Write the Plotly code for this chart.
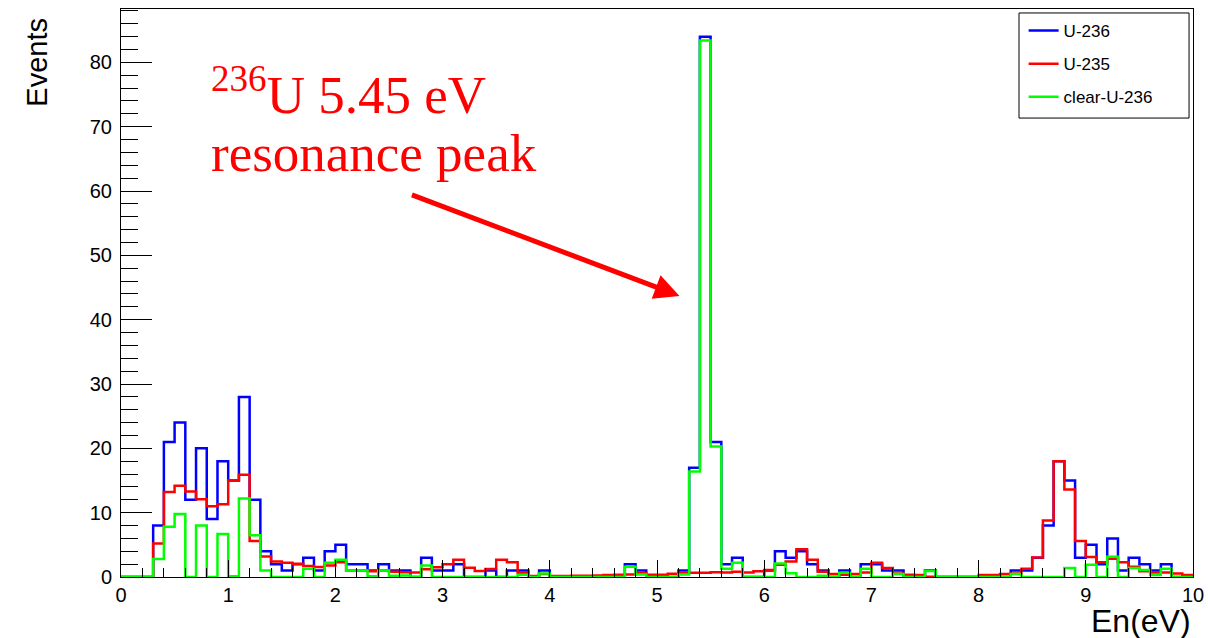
import numpy as np
import plotly.graph_objects as go

# Histogram binning: 100 bins of 0.1 eV between 0 and 10 eV
bin_lo, bin_hi, n_bins = 0.0, 10.0, 100

# Event counts per bin
u236 = [0, 0, 0, 8, 21, 24, 12, 20, 9, 18,
        15, 28, 12, 4, 2, 1, 2, 3, 1, 4,
        5, 2, 2, 1, 2, 1, 1, 0, 3, 1,
        1, 2, 0, 0, 1, 0, 1, 1, 0, 1,
        0, 0, 0, 0, 0, 0, 0, 2, 1, 0,
        0, 0, 1, 17, 84, 21, 2, 3, 0, 0,
        1, 4, 3, 4, 2, 1, 0, 1, 0, 2,
        2, 1, 1, 0, 0, 1, 0, 0, 0, 0,
        0, 0, 0, 1, 1, 3, 8, 18, 15, 3,
        5, 2, 6, 1, 3, 2, 1, 2, 0, 0]

u235 = [0, 0, 0, 5.2, 13.2, 14.2, 13.3, 12.1, 11.0, 11.3,
        15.0, 15.9, 5.6, 3.2, 2.4, 2.2, 2.05, 1.7, 1.55, 1.8,
        2.3, 1.0, 1.0, 0.9, 1.0, 0.8, 0.75, 0.7, 1.2, 1.5,
        2.0, 2.7, 1.45, 0.95, 1.25, 2.7, 2.3, 0.65, 0.15, 0.45,
        0.15, 0.15, 0.2, 0.2, 0.25, 0.3, 0.35, 0.4, 0.6, 0.35,
        0.35, 0.5, 0.6, 0.65, 0.65, 0.75, 0.7, 0.8, 0.7, 0.9,
        1.1, 1.9, 2.4, 4.3, 2.7, 0.8, 0.45, 0.35, 0.45, 0.7,
        2.2, 1.4, 0.55, 0.35, 0.3, 0.05, 0, 0, 0, 0,
        0.3, 0.3, 0.45, 0.55, 1.3, 3.05, 8.8, 18.0, 13.6, 5.6,
        3.1, 2.3, 2.85, 2.3, 1.6, 0.9, 0.7, 0.7, 0.55, 0.3]

clear_u236 = [0, 0, 0, 2.8, 7.8, 9.8, 0, 8.0, 0, 6.7,
              0.1, 12.2, 6.5, 1.0, 0, 0, 0, 1.3, 0, 2.2,
              2.7, 1.0, 1.0, 0.1, 1.0, 0.2, 0.25, 0, 1.8, 0,
              0, 0, 0, 0, 0, 0, 0, 0.35, 0, 0.55,
              0, 0, 0, 0, 0, 0, 0, 1.6, 0.4, 0,
              0, 0, 0.4, 16.4, 83.4, 20.3, 1.3, 2.2, 0, 0,
              0, 2.1, 0.6, 0, 0, 0.2, 0, 0.65, 0, 1.3,
              0, 0, 0.45, 0, 0, 0.95, 0, 0, 0, 0,
              0, 0, 0, 0.45, 0, 0, 0, 0, 1.4, 0,
              1.9, 0, 3.15, 0, 1.4, 1.1, 0.3, 1.3, 0, 0]

series = [("U-236", u236, "#0000ff"),
          ("U-235", u235, "#ff0000"),
          ("clear-U-236", clear_u236, "#00ff00")]

edges = np.linspace(bin_lo, bin_hi, n_bins + 1)

fig = go.Figure()
for name, vals, col in series:
    # step outline: each bin value held from its low edge to the next edge
    fig.add_trace(go.Scatter(
        x=edges, y=list(vals) + [vals[-1]],
        mode="lines", line=dict(color=col, width=2.5, shape="hv"),
        name=name, legendgroup=name,
    ))

sans = "Liberation Sans, Arial, sans-serif"
serif = "Liberation Serif, Times New Roman, serif"
axis_font = dict(family=sans, size=20, color="black")

fig.update_xaxes(
    range=[bin_lo, bin_hi], showgrid=False, zeroline=False, automargin=False,
    showline=True, linecolor="black", linewidth=1, mirror=True,
    ticks="inside", ticklen=17, tickcolor="black", tickwidth=1,
    dtick=1, tick0=0, tickfont=axis_font,
    minor=dict(ticks="inside", ticklen=9, dtick=0.2, tickcolor="black", tickwidth=1),
)
fig.update_yaxes(
    range=[0, 88.3], showgrid=False, zeroline=False, automargin=False,
    showline=True, linecolor="black", linewidth=1, mirror=True,
    ticks="inside", ticklen=31, tickcolor="black", tickwidth=1,
    dtick=10, tick0=0, tickfont=axis_font, ticklabelstandoff=4,
    minor=dict(ticks="inside", ticklen=17, dtick=2, tickcolor="black", tickwidth=1),
)

# Legend frame
fig.add_shape(type="rect", xref="paper", yref="paper",
              x0=0.8377, x1=0.9963, y0=0.8080, y1=0.9930,
              line=dict(color="black", width=1), fillcolor="white", layer="below")

annotations = [
    dict(text="Events", xref="paper", yref="paper", x=-0.078, y=0.988,
         xanchor="center", yanchor="top", textangle=-90, showarrow=False,
         font=dict(family=sans, size=29, color="black")),
    dict(text="En(eV)", xref="paper", yref="paper", x=1.0, y=-0.043,
         xanchor="right", yanchor="top", showarrow=False,
         font=dict(family=sans, size=32, color="black")),
    dict(text="<sup>236</sup>U 5.45 eV", x=0.82, y=75.5, xref="x", yref="y",
         xanchor="left", yanchor="middle", showarrow=False,
         font=dict(family=serif, size=53, color="#ff0000")),
    dict(text="resonance peak", x=0.82, y=65.9, xref="x", yref="y",
         xanchor="left", yanchor="middle", showarrow=False,
         font=dict(family=serif, size=53, color="#ff0000")),
    dict(text="", x=5.21, y=43.7, ax=2.70, ay=59.5, xref="x", yref="y",
         axref="x", ayref="y", showarrow=True, arrowhead=2, arrowsize=1.0,
         arrowwidth=5, arrowcolor="#ff0000", standoff=0),
]

fig.update_layout(
    width=1208, height=638,
    margin=dict(l=121, r=15, t=9, b=61, autoexpand=False),
    paper_bgcolor="white", plot_bgcolor="white",
    showlegend=True,
    legend=dict(x=0.842, y=0.993, xanchor="left", yanchor="top",
                bgcolor="rgba(0,0,0,0)", borderwidth=0, tracegroupgap=8,
                font=dict(family=sans, size=17, color="black")),
    annotations=annotations,
)

fig.write_html("out.html")
